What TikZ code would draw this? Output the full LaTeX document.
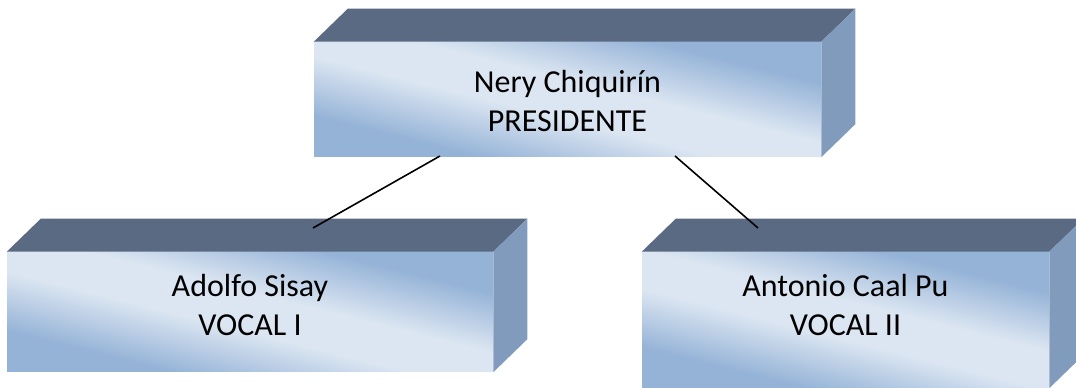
\documentclass[tikz,border=0pt]{standalone}
\usepackage{fontspec}
\setmainfont{Carlito}
\usetikzlibrary{calc}

\definecolor{topgray}{HTML}{5A6A82}
\definecolor{sideblue}{HTML}{819BBC}
\definecolor{facelight}{HTML}{DCE6F2}
\definecolor{facedark}{HTML}{95B3D7}

\pgfdeclareverticalshading{facefade}{100bp}{color(0bp)=(facedark); color(30bp)=(facedark);
  color(45bp)=(facelight); color(55bp)=(facelight); color(70bp)=(facedark); color(100bp)=(facedark)}

\tikzset{
  front/.style={inner sep=0pt, shading=facefade, shading angle=-14},
  nametext/.style={align=center, font=\fontsize{24}{29.3}\selectfont},
  topface/.style={fill=topgray},
  sideface/.style={fill=sideblue},
  link/.style={line width=1.2pt}
}

% top and right face of a box, from the front face node
\newcommand\boxdepth[1]{%
  \fill[topface] (#1.north west) -- ++(34,-33) -- ($(#1.north east)+(34,-33)$) -- (#1.north east) -- cycle;
  \fill[sideface] (#1.north east) -- ++(34,-33) -- ($(#1.south east)+(34,-33)$) -- (#1.south east) -- cycle;}

\begin{document}
\begin{tikzpicture}[x=0.75pt,y=-0.75pt]
\useasboundingbox (0,0) rectangle (1076,388);
% front faces
\node[front, minimum width=380.25pt, minimum height=86.25pt] (pres) at (567.5,99.5) {};
\node[front, minimum width=364.5pt, minimum height=90pt] (vocA) at (250,312) {};
\node[front, minimum width=305.25pt, minimum height=102pt] (vocB) at (845.5,320) {};
\boxdepth{pres}
\boxdepth{vocA}
\boxdepth{vocB}
% names
\node[nametext] (presname) at (567.5,101) {Nery Chiquirín\\PRESIDENTE};
\node[nametext] (vocAname) at (250,305) {Adolfo Sisay\\VOCAL I};
\node[nametext] (vocBname) at (845.5,305) {Antonio Caal Pu\\VOCAL II};
% connectors
\coordinate (presL) at (440,156);
\coordinate (presR) at (675,156);
\coordinate (vocAtop) at (313,228);
\coordinate (vocBtop) at (758,228);
\draw[link] (presL) -- (vocAtop);
\draw[link] (presR) -- (vocBtop);
\end{tikzpicture}
\end{document}
